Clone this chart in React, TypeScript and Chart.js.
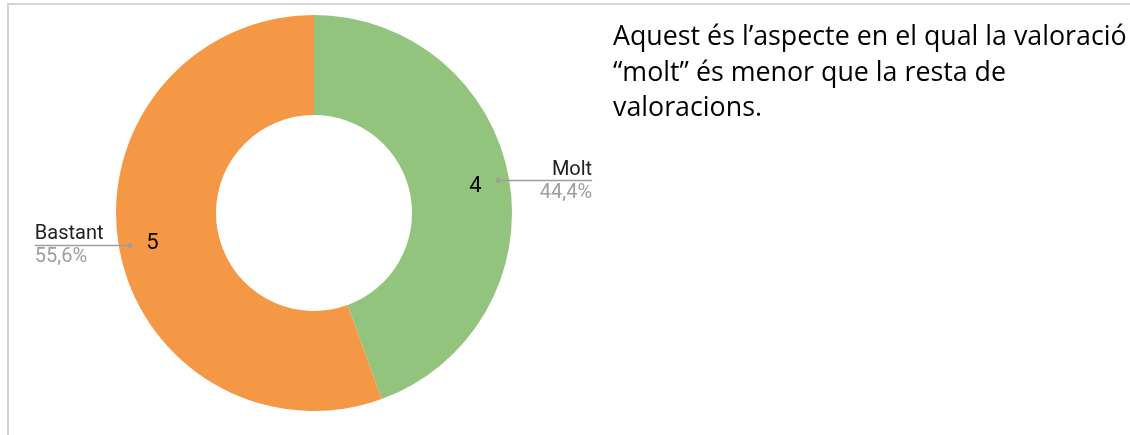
import React, { useEffect, useRef } from "react";
import { Chart, registerables } from "chart.js";

Chart.register(...registerables);

const categories = ["Molt", "Bastant"];
const values = [4, 5];
const colors = ["#93c47d", "#f59846"];
const percentLabels = ["44,4%", "55,6%"];
const noteLines = [
  "Aquest és l’aspecte en el qual la valoració",
  "“molt” és menor que la resta de",
  "valoracions.",
];

const labelPlugin = {
  id: "leaderLabels",
  afterDatasetsDraw(chart: any) {
    const ctx = chart.ctx;
    const meta = chart.getDatasetMeta(0);
    meta.data.forEach((arc: any, i: number) => {
      const { x, y, startAngle, endAngle, outerRadius } = arc.getProps(
        ["x", "y", "startAngle", "endAngle", "outerRadius"],
        true
      );
      const mid = (startAngle + endAngle) / 2;
      const cos = Math.cos(mid);
      const sin = Math.sin(mid);
      const vr = outerRadius - 34;
      ctx.save();
      ctx.fillStyle = "#000";
      ctx.font = "22px Roboto";
      ctx.textAlign = "center";
      ctx.textBaseline = "middle";
      ctx.fillText(String(values[i]), x + vr * cos, y + vr * sin + 2);
      const dr = outerRadius - 11;
      const dx = x + dr * cos;
      const dy = y + dr * sin;
      const right = cos >= 0;
      const ex = right ? dx + 94 : dx - 95;
      ctx.strokeStyle = "#9e9e9e";
      ctx.lineWidth = 1.5;
      ctx.beginPath();
      ctx.moveTo(dx, dy);
      ctx.lineTo(ex, dy);
      ctx.stroke();
      ctx.fillStyle = "#9e9e9e";
      ctx.beginPath();
      ctx.arc(dx, dy, 2.5, 0, Math.PI * 2);
      ctx.fill();
      ctx.textAlign = right ? "right" : "left";
      ctx.textBaseline = "alphabetic";
      ctx.font = "20px Roboto";
      ctx.fillStyle = "#212121";
      ctx.fillText(categories[i], ex, dy - 6);
      ctx.fillStyle = "#9e9e9e";
      ctx.fillText(percentLabels[i], ex, dy + 17);
      ctx.restore();
    });
  },
};

export default function App() {
  const ref = useRef<HTMLCanvasElement>(null);
  useEffect(() => {
    if (!ref.current) return;
    const chart = new Chart(ref.current, {
      type: "doughnut",
      data: {
        labels: categories,
        datasets: [
          {
            data: values,
            backgroundColor: colors,
            borderWidth: 0,
            hoverOffset: 0,
          },
        ],
      },
      options: {
        animation: false,
        responsive: false,
        maintainAspectRatio: false,
        cutout: "49.5%",
        layout: { padding: { left: 116, right: 618, top: 15, bottom: 24 } },
        plugins: {
          legend: { display: false },
          tooltip: { enabled: false },
        },
      },
      plugins: [labelPlugin],
    });
    return () => chart.destroy();
  }, []);

  return (
    <div
      style={{
        position: "fixed",
        left: 0,
        top: 0,
        width: 1130,
        height: 435,
        background: "#fff",
        overflow: "hidden",
      }}
    >
      <div
        style={{
          position: "absolute",
          left: 7,
          top: 3,
          width: 1200,
          height: 500,
          borderTop: "2px solid #d4d4d4",
          borderLeft: "2px solid #d4d4d4",
        }}
      />
      <canvas
        ref={ref}
        width={1130}
        height={435}
        style={{ position: "absolute", left: 0, top: 0, width: 1130, height: 435 }}
      />
      <div
        style={{
          position: "absolute",
          left: 613,
          top: 17,
          width: 520,
          fontFamily: "'Open Sans'",
          fontSize: 26.8,
          lineHeight: "35.5px",
          color: "#000",
          whiteSpace: "nowrap",
        }}
      >
        {noteLines.map((l, i) => (
          <div key={i}>{l}</div>
        ))}
      </div>
    </div>
  );
}
